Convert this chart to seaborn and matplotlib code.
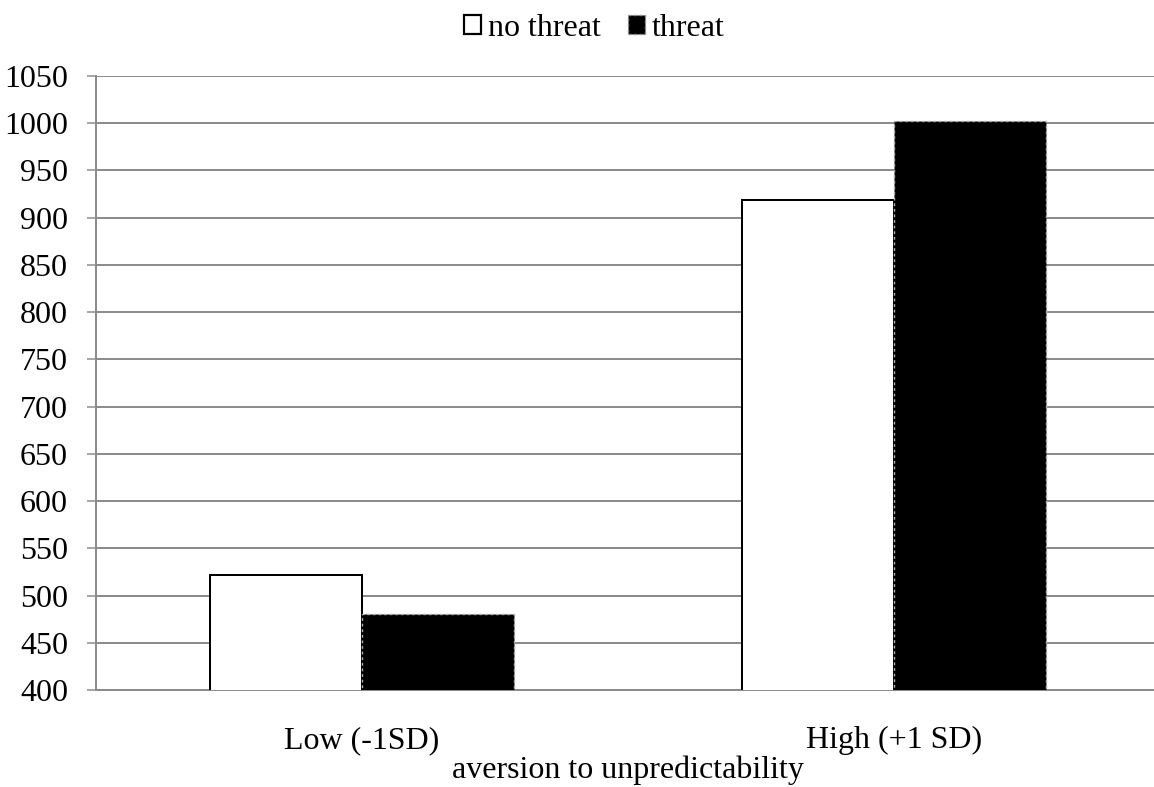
import matplotlib
matplotlib.use("Agg")
import matplotlib.pyplot as plt
import seaborn as sns
import pandas as pd

categories = ["Low (-1SD)", "High (+1 SD)"]
conditions = ["no threat", "threat"]
no_threat = [522, 919]
threat = [480, 1002]
y_ticks = [400, 450, 500, 550, 600, 650, 700, 750, 800, 850, 900, 950, 1000, 1050]
x_title = "aversion to unpredictability"

df = pd.DataFrame({
    "category": categories * 2,
    "condition": [conditions[0]] * 2 + [conditions[1]] * 2,
    "value": no_threat + threat,
})

sns.set_theme(style="white")
plt.rcParams["font.family"] = ["Liberation Serif", "DejaVu Serif"]
plt.rcParams["text.color"] = "black"
plt.rcParams["axes.labelcolor"] = "black"
FS = 23
PX = 0.72  # points per pixel at dpi 100

fig = plt.figure(figsize=(11.54, 7.87), dpi=100)
ax = fig.add_axes([96 / 1154, 1 - 690 / 787, 1064 / 1154, (690 - 76) / 787])

sns.barplot(data=df, x="category", y="value", hue="condition",
            order=categories, hue_order=conditions,
            palette=["white", "black"], width=0.572, gap=0,
            saturation=1, errorbar=None, ax=ax, legend=True)

# style bars
for container, cond in zip(ax.containers, conditions):
    for bar in container:
        bar.set_zorder(3)
        if cond == "no threat":
            bar.set_edgecolor("black")
            bar.set_linewidth(2 * PX)
            bar.set_linestyle("-")
        else:
            bar.set_edgecolor("#b0b0b0")
            bar.set_linewidth(1.4 * PX)
            bar.set_linestyle((0, (2, 2)))

ax.set_ylim(400, 1050)
ax.set_xlim(-0.5, 1.5)
ax.set_yticks(y_ticks)
ax.set_yticklabels([str(t) for t in y_ticks], fontsize=FS)
ax.yaxis.grid(True, color="#8c8c8c", linewidth=2 * PX, zorder=0)
ax.set_axisbelow(True)
ax.xaxis.grid(False)

# category boundary ticks on x-axis
ax.set_xticks([0, 1])
ax.set_xticklabels(categories, fontsize=FS)
ax.tick_params(axis="x", which="major", length=0, pad=26, labelcolor="black")
ax.set_xticks([-0.5, 0.5, 1.5], minor=True)
ax.tick_params(axis="x", which="minor", length=8 * PX, width=1.5 * PX, color="#8c8c8c", direction="out")
ax.tick_params(axis="y", length=9 * PX, width=1.5 * PX, color="#8c8c8c", direction="out",
               pad=19 * PX, left=True, labelcolor="black")

for side in ["top", "right"]:
    ax.spines[side].set_visible(False)
for side in ["left", "bottom"]:
    ax.spines[side].set_visible(True)
    ax.spines[side].set_color("#8c8c8c")
    ax.spines[side].set_linewidth(2 * PX)

ax.set_ylabel("")
ax.set_xlabel(x_title, fontsize=FS, labelpad=0, color="black")

handles, labels = ax.get_legend_handles_labels()
ax.get_legend().remove()
for h, cond in zip(handles, conditions):
    if cond == "no threat":
        h.set_edgecolor("black")
        h.set_linewidth(2.2 * PX)
    else:
        h.set_edgecolor("#909090")
        h.set_linewidth(1.4 * PX)
        h.set_linestyle((0, (2, 2)))
fig.legend(handles, labels, loc="center", bbox_to_anchor=(594 / 1154, 1 - 28 / 787),
           ncol=2, frameon=False, fontsize=FS, handlelength=0.55, handleheight=0.55,
           handletextpad=0.2, columnspacing=0.85, borderaxespad=0, labelcolor="black")

fig.savefig("out.png", dpi=100, facecolor="white")
